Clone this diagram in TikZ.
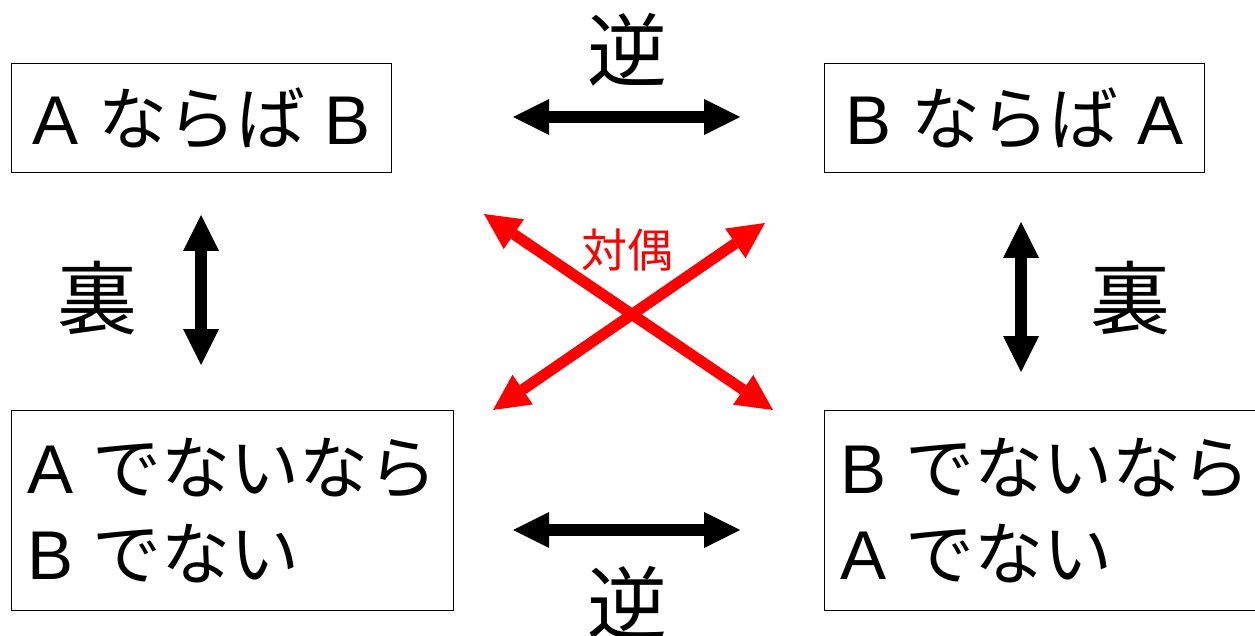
\documentclass[tikz,border=0pt]{standalone}
\usepackage{fontspec}
\setmainfont{Liberation Sans}
\newfontfamily\jp{Noto Sans CJK JP}
\usetikzlibrary{arrows.meta,positioning}
\tikzset{
  stmt/.style={draw=black, line width=1.2pt, fill=white, align=left, inner sep=0pt, anchor=north west, font=\fontsize{69}{86}\selectfont},
  kind/.style={font=\jp\fontsize{80}{80}\selectfont, inner sep=0pt},
  pairlabel/.style={font=\jp\fontsize{46}{46}\selectfont, text=red, inner sep=0pt},
  twoway/.style={{Triangle[length=36pt,width=36pt,line width=0pt]}-{Triangle[length=36pt,width=36pt,line width=0pt]}, line width=12pt, draw=black},
  redtwoway/.style={{Triangle[length=36pt,width=36pt,line width=0pt]}-{Triangle[length=36pt,width=36pt,line width=0pt]}, line width=11pt, draw=red},
}
\begin{document}
\begin{tikzpicture}[x=1pt,y=-1pt]
\useasboundingbox (0,0) rectangle (1255,636);
\node[stmt, minimum width=380pt, minimum height=109pt] (ab) at (11,63) {A {\jp ならば} B};
\node[stmt, minimum width=380pt, minimum height=109pt] (ba) at (824,63) {B {\jp ならば} A};
\node[stmt, minimum width=442pt, minimum height=200pt] (nanb) at (11,410) {A {\jp でないなら}\\B {\jp でない}};
\node[stmt, minimum width=442pt, minimum height=200pt] (nbna) at (824,410) {B {\jp でないなら}\\A {\jp でない}};
\coordinate (gl1) at (513,117);\coordinate (gr1) at (740,117);
\coordinate (gl2) at (513,530);\coordinate (gr2) at (740,530);
\coordinate (vl1) at (201,215);\coordinate (vl2) at (201,365);
\coordinate (vr1) at (1021,222);\coordinate (vr2) at (1021,372);
\coordinate (ca) at (484,214);\coordinate (cb) at (773,410);
\coordinate (cc) at (493,410);\coordinate (cd) at (765,223);
\draw[twoway](gl1)--(gr1);\draw[twoway](gl2)--(gr2);
\draw[twoway](vl1)--(vl2);\draw[twoway](vr1)--(vr2);
\draw[redtwoway](ca)--(cb);\draw[redtwoway](cc)--(cd);
\node[kind] (conv1) at (627,50) {逆};
\node[kind] (conv2) at (627,603) {逆};
\node[kind] (inv1) at (97,298) {裏};
\node[kind] (inv2) at (1130,298) {裏};
\node[pairlabel] (contra) at (627,250) {対偶};
\end{tikzpicture}
\end{document}
